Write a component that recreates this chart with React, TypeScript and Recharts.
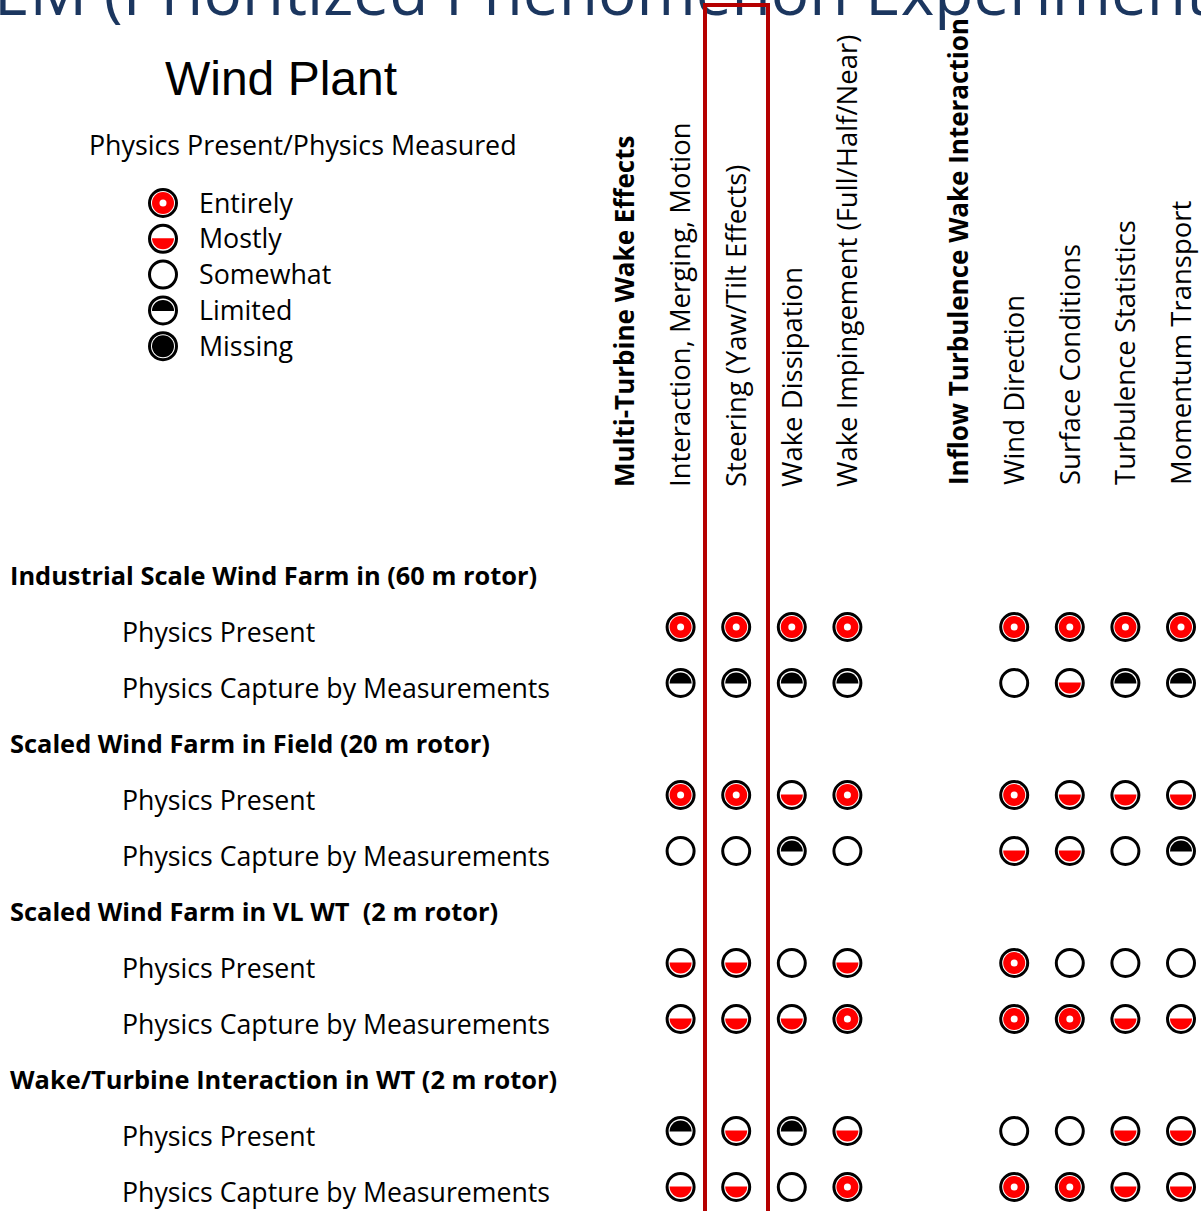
import React from "react";
import { ScatterChart, Scatter, XAxis, YAxis, Legend } from "recharts";

// column headers along the top (slot index = position on the x scale)
const columnLabels = [
  "Multi-Turbine Wake Effects",
  "Interaction, Merging, Motion",
  "Steering (Yaw/Tilt Effects)",
  "Wake Dissipation",
  "Wake Impingement (Full/Half/Near)",
  "",
  "Inflow Turbulence Wake Interaction",
  "Wind Direction",
  "Surface Conditions",
  "Turbulence Statistics",
  "Momentum Transport",
];
const columnGroups = ["Multi-Turbine Wake Effects", "Inflow Turbulence Wake Interaction"];

// rows down the left side
const rowLabels = [
  "Industrial Scale Wind Farm in (60 m rotor)",
  "Physics Present",
  "Physics Capture by Measurements",
  "Scaled Wind Farm in Field (20 m rotor)",
  "Physics Present",
  "Physics Capture by Measurements",
  "Scaled Wind Farm in VL WT  (2 m rotor)",
  "Physics Present",
  "Physics Capture by Measurements",
  "Wake/Turbine Interaction in WT (2 m rotor)",
  "Physics Present",
  "Physics Capture by Measurements",
];
const rowGroups = [
  "Industrial Scale Wind Farm in (60 m rotor)",
  "Scaled Wind Farm in Field (20 m rotor)",
  "Scaled Wind Farm in VL WT  (2 m rotor)",
  "Wake/Turbine Interaction in WT (2 m rotor)",
];

const levels = ["Entirely", "Mostly", "Somewhat", "Limited", "Missing"];

// E = Entirely, M = Mostly, S = Somewhat, L = Limited, X = Missing
const industrialPresent = ["E", "E", "E", "E", "E", "E", "E", "E"];
const industrialCapture = ["L", "L", "L", "L", "S", "M", "L", "L"];
const fieldPresent = ["E", "E", "M", "E", "E", "M", "M", "M"];
const fieldCapture = ["S", "S", "L", "S", "M", "M", "S", "L"];
const vlwtPresent = ["M", "M", "S", "M", "E", "S", "S", "S"];
const vlwtCapture = ["M", "M", "M", "E", "E", "E", "M", "M"];
const wtPresent = ["L", "M", "L", "M", "S", "S", "M", "M"];
const wtCapture = ["M", "M", "S", "E", "E", "E", "M", "M"];

const statusRows = [
  industrialPresent,
  industrialCapture,
  fieldPresent,
  fieldCapture,
  vlwtPresent,
  vlwtCapture,
  wtPresent,
  wtCapture,
];
const codeToLevel: Record<string, string> = {
  E: "Entirely",
  M: "Mostly",
  S: "Somewhat",
  L: "Limited",
  X: "Missing",
};

const dataColumns = columnLabels
  .map((_, i) => i)
  .filter((i) => columnLabels[i] !== "" && !columnGroups.includes(columnLabels[i]));
const dataRows = rowLabels.map((_, i) => i).filter((i) => !rowGroups.includes(rowLabels[i]));

const seriesData = levels.map((level) => {
  const pts: { x: number; y: number }[] = [];
  statusRows.forEach((row, r) => {
    row.forEach((code, c) => {
      if (codeToLevel[code] === level) pts.push({ x: dataColumns[c], y: dataRows[r] });
    });
  });
  return pts;
});

const RED = "#ff0000";
const TEXT_FONT = "'Open Sans', 'Noto Sans', sans-serif";

function Mark({ cx, cy, level }: { cx: number; cy: number; level: string }) {
  const r = 11;
  return (
    <g>
      <circle cx={cx} cy={cy} r={13.5} fill="#fff" stroke="#000" strokeWidth={3} />
      {level === "Entirely" && (
        <>
          <circle cx={cx} cy={cy} r={r} fill={RED} />
          <circle cx={cx} cy={cy} r={3.5} fill="#fff" />
        </>
      )}
      {level === "Mostly" && (
        <path d={`M${cx - r},${cy - 0.5} A${r},${r} 0 0 0 ${cx + r},${cy - 0.5} Z`} fill={RED} />
      )}
      {level === "Limited" && (
        <path d={`M${cx - r},${cy + 0.5} A${r},${r} 0 0 1 ${cx + r},${cy + 0.5} Z`} fill="#000" />
      )}
      {level === "Missing" && <circle cx={cx} cy={cy} r={r} fill="#000" />}
    </g>
  );
}

const ColumnTick = (props: any) => {
  const { x, payload } = props;
  const label = columnLabels[payload.value];
  if (!label) return null;
  const bold = columnGroups.includes(label);
  const baseY = payload.value > 5 ? 485 : 487;
  return (
    <text
      x={x}
      y={baseY}
      dy="0.36em"
      transform={`rotate(-90, ${x}, ${baseY})`}
      textAnchor="start"
      fontFamily={TEXT_FONT}
      fontSize={bold ? 26 : 27.5}
      fontWeight={bold ? 700 : 400}
      fill="#000"
    >
      {label}
    </text>
  );
};

const RowTick = (props: any) => {
  const { y, payload } = props;
  const label = rowLabels[payload.value];
  const bold = rowGroups.includes(label);
  return (
    <text
      x={bold ? 10 : 122}
      y={y + 5}
      dy="0.36em"
      textAnchor="start"
      fontFamily={TEXT_FONT}
      fontSize={bold ? 25.4 : 26.7}
      fontWeight={bold ? 700 : 400}
      fill="#000"
      style={{ whiteSpace: "pre" }}
    >
      {label}
    </text>
  );
};

const LegendBox = () => (
  <svg width={600} height={380} style={{ display: "block" }}>
    <text x={281} y={95} textAnchor="middle" fontFamily="'Liberation Sans', Arial, sans-serif" fontSize={48} fill="#000">
      Wind Plant
    </text>
    <text x={89} y={155} fontFamily={TEXT_FONT} fontSize={26.8} fill="#000">
      Physics Present/Physics Measured
    </text>
    {levels.map((level, i) => (
      <g key={level}>
        <Mark cx={163} cy={203 + i * 35.8} level={level} />
        <text x={199} y={203 + i * 35.8} dy="0.36em" fontFamily={TEXT_FONT} fontSize={26.8} fill="#000">
          {level}
        </text>
      </g>
    ))}
  </svg>
);

export default function App() {
  return (
    <div style={{ position: "absolute", left: 0, top: 0, width: 1201, height: 1211, background: "#fff", overflow: "hidden" }}>
      <ScatterChart width={1201} height={1211} margin={{ top: 541, right: 20, bottom: 24, left: 0 }}>
        <text x={-6} y={15} fontFamily={TEXT_FONT} fontSize={64} fill="#1b365f">
          EM (Prioritized Phenomenon Experiment
        </text>
        <rect x={705} y={5} width={63} height={1230} fill="none" stroke="#b50000" strokeWidth={4} />
        <XAxis
          type="number"
          dataKey="x"
          orientation="top"
          domain={[0, 10]}
          ticks={columnLabels.map((_, i) => i)}
          interval={0}
          axisLine={false}
          tickLine={false}
          height={30}
          tick={<ColumnTick />}
        />
        <YAxis
          type="number"
          dataKey="y"
          domain={[0, 11]}
          reversed
          ticks={rowLabels.map((_, i) => i)}
          interval={0}
          axisLine={false}
          tickLine={false}
          width={625}
          tick={<RowTick />}
        />
        <Legend
          layout="vertical"
          align="center"
          verticalAlign="middle"
          wrapperStyle={{ left: 0, top: 0, width: 600, height: 380 }}
          content={<LegendBox />}
        />
        {levels.map((level, i) => (
          <Scatter
            key={level}
            name={level}
            data={seriesData[i]}
            isAnimationActive={false}
            shape={(p: any) => <Mark cx={p.cx} cy={p.cy} level={level} />}
          />
        ))}
      </ScatterChart>
    </div>
  );
}
